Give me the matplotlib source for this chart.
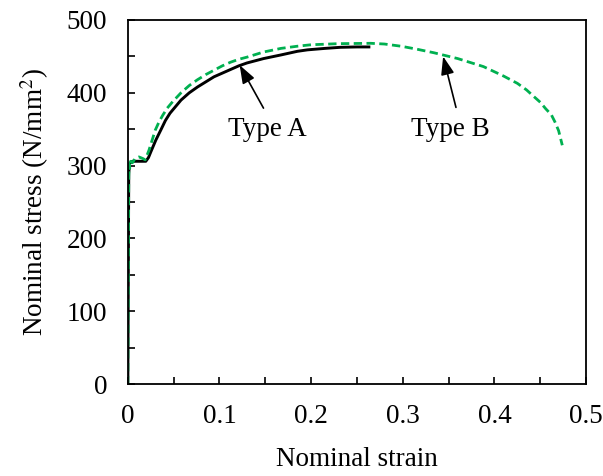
import matplotlib
matplotlib.use("Agg")
import matplotlib.pyplot as plt
from matplotlib.ticker import MultipleLocator

plt.rcParams['font.family'] = ['Liberation Serif', 'DejaVu Serif']
plt.rcParams['mathtext.fontset'] = 'stix'

# Type A (solid black)
strain_a = [0.0, 0.0005, 0.001, 0.002, 0.005, 0.012, 0.0196, 0.0225, 0.0251, 0.0305,
            0.036, 0.041, 0.046, 0.052, 0.058, 0.067, 0.076, 0.085, 0.094, 0.103,
            0.112, 0.121, 0.130, 0.148, 0.167, 0.185, 0.196, 0.215, 0.232, 0.250, 0.263]
stress_a = [0, 150, 290, 303, 306, 306, 306, 311, 319, 335,
            349, 362, 372, 381, 390, 400, 408, 415, 422, 427,
            432, 437, 441, 447, 452, 457, 459, 461, 462.5, 463, 463]

# Type B (green dashed)
strain_b = [0.0, 0.0005, 0.001, 0.0015, 0.002, 0.003, 0.005, 0.008, 0.012, 0.016,
            0.019, 0.023, 0.026, 0.030, 0.034, 0.038, 0.043, 0.049, 0.058, 0.067,
            0.076, 0.085, 0.094, 0.103, 0.112, 0.121, 0.130, 0.148, 0.167, 0.185,
            0.200, 0.230, 0.265, 0.280, 0.298, 0.315, 0.334, 0.360, 0.388, 0.410,
            0.425, 0.435, 0.442, 0.450, 0.456, 0.462, 0.466, 0.470, 0.472, 0.474]
stress_b = [0, 150, 285, 302, 296, 306, 304, 310, 312, 310,
            308, 321, 333, 349, 360, 369, 379, 388, 400, 410,
            418, 425, 431, 437, 442, 446, 449, 456, 461, 464,
            466, 467.5, 468, 467, 464, 460, 455, 447, 436, 423,
            413, 404, 396, 387, 378, 370, 360, 348, 338, 328]

fig = plt.figure(figsize=(6.03, 4.76), dpi=100)
ax = fig.add_axes([0.212, 0.193, 0.760, 0.765])

ax.plot(strain_a, stress_a, color='black', lw=2.1)
ax.plot(strain_b, stress_b, color='#00B050', lw=2.0, dashes=(3, 1.6))

ax.set_xlim(0, 0.5)
ax.set_ylim(0, 500)
ax.xaxis.set_minor_locator(MultipleLocator(0.05))
ax.yaxis.set_major_locator(MultipleLocator(100))
ax.yaxis.set_minor_locator(MultipleLocator(50))
ax.set_xticks([0, 0.1, 0.2, 0.3, 0.4, 0.5])
ax.set_xticklabels(['0', '0.1', '0.2', '0.3', '0.4', '0.5'])

ax.tick_params(which='both', direction='in', length=5, width=1.2, labelsize=19.5)
ax.tick_params(axis='y', pad=15)
ax.tick_params(axis='x', pad=14)
for s in ax.spines.values():
    s.set_linewidth(1.3)

ax.set_xlabel('Nominal strain', fontsize=19.5, labelpad=13)
ax.set_ylabel('Nominal stress (N/mm$^{2}$)', fontsize=19.5, labelpad=11)

arrow = dict(arrowstyle='-|>,head_length=0.55,head_width=0.2', color='black',
             lw=1.2, mutation_scale=20, shrinkA=0, shrinkB=0)
ax.text(0.152, 349, 'Type A', fontsize=19.5, ha='center', va='center')
ax.annotate('', xy=(0.122, 438), xytext=(0.148, 379), arrowprops=arrow)
ax.text(0.352, 350, 'Type B', fontsize=19.5, ha='center', va='center')
ax.annotate('', xy=(0.344, 450), xytext=(0.358, 380), arrowprops=arrow)

fig.savefig('out.png', dpi=100)
